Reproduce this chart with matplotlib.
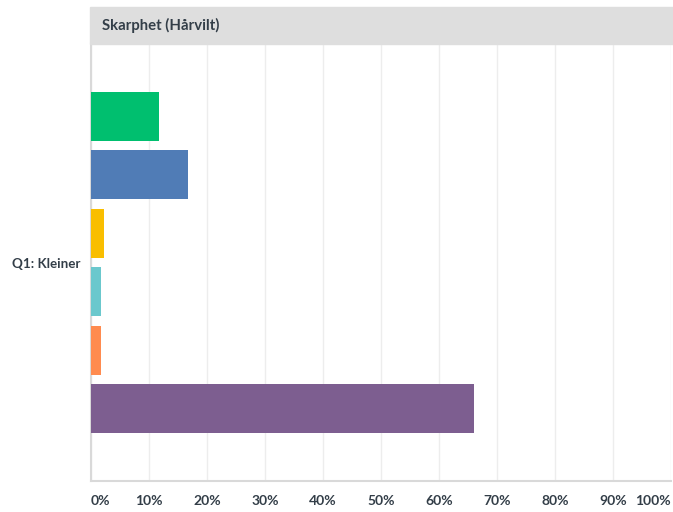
import matplotlib.pyplot as plt
from matplotlib.patches import Rectangle

# answer shares for Q1 (percent), top to bottom
shares = [11.67, 16.67, 2.22, 1.67, 1.67, 66.11]
colors = ['#00BF6F', '#507CB6', '#F9BE00', '#6BC8CD', '#FF8B4F', '#7D5E90']
ticks = [0, 10, 20, 30, 40, 50, 60, 70, 80, 90, 100]
tick_labels = ['%d%%' % t for t in ticks]
title = 'Skarphet (Hårvilt)'
question = 'Q1: Kleiner'

txt = '#333E48'
plt.rcParams['font.family'] = ['Lato', 'DejaVu Sans']

W, H = 673, 512
fig = plt.figure(figsize=(W / 100, H / 100), dpi=100)
ax = fig.add_axes([91 / W, 1 - 481 / H, (671 - 91) / W, (481 - 44) / H])

pos = list(range(len(shares)))
ax.barh(pos, shares, height=0.84, color=colors, zorder=3)
ax.set_ylim(len(shares) - 1 + 1.24, -1.24)
ax.set_xlim(0, 100)

ax.set_xticks(ticks)
ax.set_xticklabels(tick_labels, fontsize=10, fontweight='bold', color=txt)
labs = ax.get_xticklabels()
labs[0].set_ha('left')
labs[-1].set_ha('right')
ax.tick_params(axis='x', length=0, pad=10)
ax.set_yticks([])
ax.grid(axis='x', color='#EDEDED', linewidth=1, zorder=0)

for s in ['top', 'right']:
    ax.spines[s].set_visible(False)
ax.spines['left'].set_color('#D9D9D9')
ax.spines['left'].set_linewidth(1.5)
ax.spines['bottom'].set_color('#D9D9D9')
ax.spines['bottom'].set_linewidth(1.5)

# question label on the left
fig.text(80 / W, 1 - 264 / H, question, ha='right', va='center',
         fontsize=9.6, fontweight='bold', color=txt)

# grey header strip
fig.patches.append(Rectangle((90 / W, 1 - 44 / H), (673 - 90) / W, 37 / H,
                             transform=fig.transFigure, color='#DEDEDE', zorder=0))
fig.text(102 / W, 1 - 25.5 / H, title, ha='left', va='center',
         fontsize=10.7, fontweight='bold', color=txt)

plt.savefig('out.png', dpi=100)
